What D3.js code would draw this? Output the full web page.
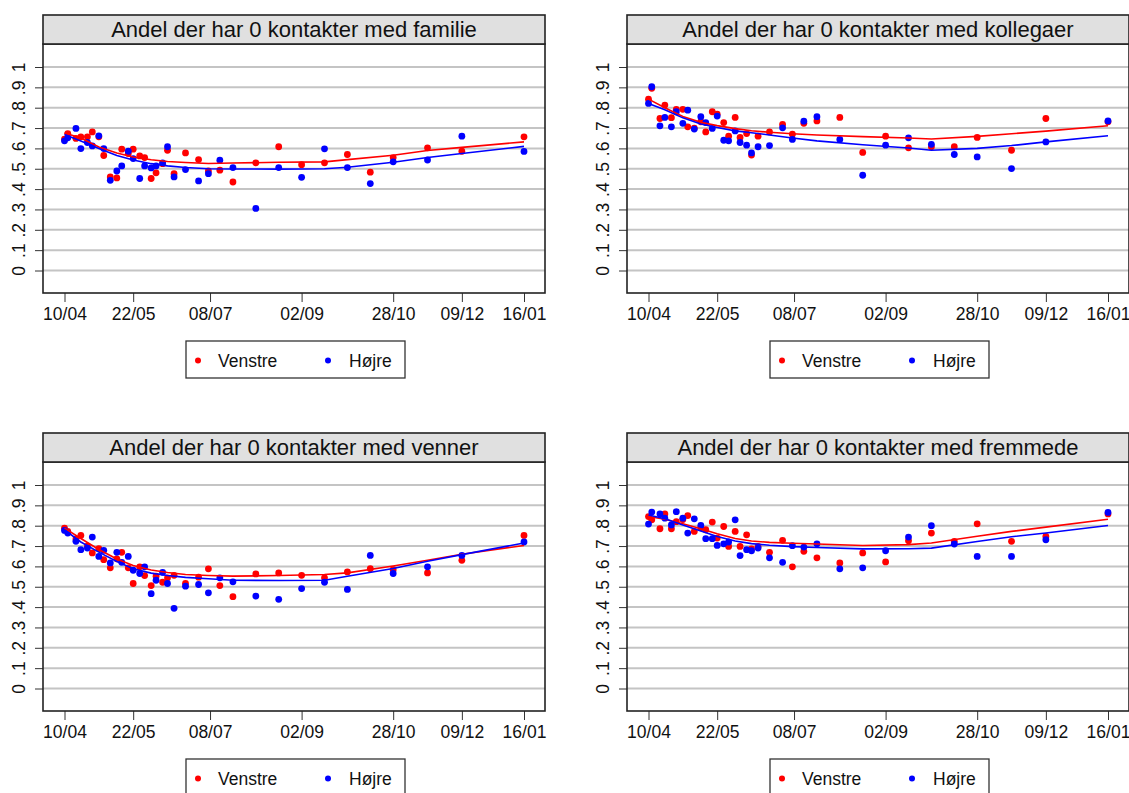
<!DOCTYPE html>
<html>
<head>
<meta charset="utf-8">
<script src="https://cdn.jsdelivr.net/npm/d3@7"></script>
<style>
  body { margin: 0; background: #ffffff; }
  svg { display: block; font-family: "Liberation Sans", Arial, sans-serif; }
</style>
</head>
<body>
<svg id="chart" width="1129" height="793"></svg>
<script>
// ---------- DATA ----------
const dates = ["2020-04-10","2020-04-12","2020-04-17","2020-04-20","2020-04-24","2020-04-27","2020-05-01","2020-05-04","2020-05-08","2020-05-12","2020-05-15","2020-05-19","2020-05-22","2020-05-26","2020-05-29","2020-06-02","2020-06-05","2020-06-09","2020-06-12","2020-06-16","2020-06-23","2020-07-01","2020-07-07","2020-07-14","2020-07-22","2020-08-05","2020-08-19","2020-09-02","2020-09-16","2020-09-30","2020-10-14","2020-10-28","2020-11-18","2020-12-09","2021-01-16"];
const fitDates = ["2020-04-10","2020-04-20","2020-05-01","2020-05-12","2020-05-22","2020-06-02","2020-06-12","2020-06-23","2020-07-07","2020-07-22","2020-08-19","2020-09-16","2020-09-30","2020-10-28","2020-11-18","2020-12-09","2021-01-16"];
const tickDates = ["2020-04-10","2020-05-22","2020-07-08","2020-09-02","2020-10-28","2020-12-09","2021-01-16"];
const tickLabels = ["10/04","22/05","08/07","02/09","28/10","09/12","16/01"];
const yTicks = [0,0.1,0.2,0.3,0.4,0.5,0.6,0.7,0.8,0.9,1];
const yTickLabels = ["0",".1",".2",".3",".4",".5",".6",".7",".8",".9","1"];
const titles = ["Andel der har 0 kontakter med familie","Andel der har 0 kontakter med kollegaer","Andel der har 0 kontakter med venner","Andel der har 0 kontakter med fremmede"];
const seriesNames = ["Venstre","Højre"];

// familie
const familieVenstre = [0.645,0.673,0.649,0.657,0.657,0.681,0.657,0.565,0.46,0.455,0.596,0.575,0.596,0.563,0.555,0.452,0.48,0.525,0.591,0.476,0.578,0.545,0.489,0.493,0.435,0.529,0.608,0.52,0.529,0.57,0.483,0.555,0.603,0.586,0.657];
const familieHojre   = [0.637,0.652,0.698,0.599,0.629,0.612,0.662,0.599,0.443,0.489,0.514,0.586,0.55,0.452,0.514,0.504,0.514,0.529,0.608,0.46,0.496,0.44,0.476,0.542,0.506,0.305,0.506,0.458,0.598,0.506,0.427,0.534,0.543,0.66,0.585];
const familieFitVenstre = [0.676,0.651,0.607,0.577,0.558,0.544,0.536,0.531,0.526,0.528,0.532,0.534,0.545,0.566,0.59,0.605,0.632];
const familieFitHojre   = [0.668,0.636,0.60,0.565,0.543,0.525,0.514,0.506,0.50,0.499,0.498,0.50,0.507,0.532,0.555,0.575,0.61];

// kollegaer
const kollegaerVenstre = [0.842,0.895,0.747,0.813,0.751,0.792,0.792,0.706,0.70,0.731,0.681,0.78,0.768,0.727,0.66,0.752,0.654,0.673,0.567,0.66,0.681,0.718,0.67,0.723,0.735,0.752,0.58,0.66,0.603,0.608,0.608,0.654,0.591,0.747,0.731];
const kollegaerHojre   = [0.821,0.903,0.711,0.752,0.706,0.78,0.723,0.788,0.695,0.756,0.727,0.698,0.759,0.64,0.637,0.686,0.629,0.616,0.578,0.608,0.614,0.701,0.644,0.734,0.756,0.644,0.468,0.616,0.652,0.62,0.57,0.558,0.501,0.632,0.735];
const kollegaerFitVenstre = [0.842,0.80,0.757,0.728,0.712,0.697,0.687,0.679,0.672,0.666,0.658,0.651,0.646,0.659,0.672,0.685,0.711];
const kollegaerFitHojre   = [0.821,0.79,0.75,0.72,0.703,0.686,0.677,0.666,0.651,0.637,0.618,0.602,0.591,0.60,0.614,0.632,0.662];

// venner
const vennerVenstre = [0.788,0.772,0.735,0.752,0.70,0.666,0.687,0.633,0.593,0.637,0.669,0.593,0.516,0.598,0.555,0.506,0.552,0.522,0.544,0.556,0.516,0.547,0.588,0.506,0.451,0.563,0.568,0.556,0.544,0.573,0.589,0.584,0.568,0.63,0.752];
const vennerHojre   = [0.777,0.764,0.723,0.682,0.69,0.744,0.649,0.679,0.617,0.669,0.62,0.649,0.581,0.565,0.598,0.466,0.532,0.571,0.516,0.394,0.503,0.511,0.47,0.544,0.524,0.454,0.438,0.491,0.522,0.487,0.654,0.565,0.598,0.654,0.72];
const vennerFitVenstre = [0.788,0.737,0.683,0.636,0.604,0.582,0.57,0.56,0.555,0.552,0.555,0.56,0.568,0.602,0.63,0.66,0.703];
const vennerFitHojre   = [0.78,0.72,0.67,0.624,0.588,0.567,0.555,0.546,0.539,0.532,0.531,0.532,0.552,0.59,0.625,0.658,0.715];

// fremmede
const fremmedeVenstre = [0.845,0.829,0.785,0.858,0.785,0.82,0.83,0.85,0.772,0.79,0.78,0.818,0.739,0.796,0.698,0.772,0.698,0.755,0.686,0.698,0.669,0.728,0.598,0.674,0.642,0.617,0.666,0.622,0.726,0.764,0.723,0.809,0.723,0.747,0.858];
const fremmedeHojre   = [0.808,0.867,0.858,0.837,0.804,0.869,0.837,0.764,0.834,0.801,0.736,0.736,0.703,0.711,0.72,0.829,0.653,0.682,0.677,0.69,0.642,0.62,0.702,0.695,0.711,0.588,0.593,0.677,0.744,0.80,0.71,0.649,0.649,0.731,0.865];
const fremmedeFitVenstre = [0.845,0.832,0.81,0.785,0.76,0.737,0.725,0.718,0.714,0.71,0.703,0.707,0.715,0.748,0.772,0.793,0.832];
const fremmedeFitHojre   = [0.853,0.834,0.803,0.774,0.747,0.725,0.712,0.704,0.697,0.693,0.686,0.687,0.69,0.722,0.746,0.764,0.801];

// ---------- DRAW ----------
const parse = d3.timeParse("%Y-%m-%d");
const dDates = dates.map(parse);
const dFit = fitDates.map(parse);
const dTicks = tickDates.map(parse);
const colors = ["#ff0000", "#0000ff"];

const panels = [
  {title: titles[0], pts: [familieVenstre, familieHojre], fit: [familieFitVenstre, familieFitHojre], left: 43, top: 15},
  {title: titles[1], pts: [kollegaerVenstre, kollegaerHojre], fit: [kollegaerFitVenstre, kollegaerFitHojre], left: 627, top: 15},
  {title: titles[2], pts: [vennerVenstre, vennerHojre], fit: [vennerFitVenstre, vennerFitHojre], left: 43, top: 433},
  {title: titles[3], pts: [fremmedeVenstre, fremmedeHojre], fit: [fremmedeFitVenstre, fremmedeFitHojre], left: 627, top: 433}
];

const svg = d3.select("#chart");
const boxW = 502, stripH = 29, boxH = 249;

panels.forEach(p => {
  const g = svg.append("g").attr("transform", `translate(${p.left},${p.top})`);
  const by = stripH;
  const x = d3.scaleTime().domain(d3.extent(dDates)).range([21.5, 481]);
  const y = d3.scaleLinear().domain([0, 1]).range([by + 226.5, by + 23]);

  g.append("g").selectAll("line").data(yTicks).join("line")
    .attr("x1", 0).attr("x2", boxW)
    .attr("y1", d => y(d)).attr("y2", d => y(d))
    .attr("stroke", "#c4c4c4").attr("stroke-width", 2);

  const ya = g.append("g")
    .call(d3.axisLeft(y).tickValues(yTicks).tickFormat((d, i) => yTickLabels[i]).tickSize(8).tickPadding(0));
  ya.select(".domain").remove();
  ya.selectAll(".tick line").attr("stroke", "#333").attr("stroke-width", 1);
  ya.selectAll(".tick text")
    .attr("font-size", 17.5).attr("fill", "#111")
    .attr("font-family", "Liberation Sans, Arial, sans-serif")
    .attr("text-anchor", "middle").attr("dy", null).attr("x", null)
    .attr("transform", "translate(-18,0) rotate(-90)");

  const xa = g.append("g").attr("transform", `translate(0,${by + boxH})`)
    .call(d3.axisBottom(x).tickValues(dTicks).tickFormat((d, i) => tickLabels[i]).tickSize(9).tickPadding(6));
  xa.select(".domain").remove();
  xa.selectAll(".tick line").attr("stroke", "#333").attr("stroke-width", 1);
  xa.selectAll(".tick text").attr("font-size", 17.5).attr("fill", "#111")
    .attr("font-family", "Liberation Sans, Arial, sans-serif");

  p.pts.forEach((vals, si) => {
    g.append("g").selectAll("circle").data(vals).join("circle")
      .attr("cx", (d, i) => x(dDates[i])).attr("cy", d => y(d))
      .attr("r", 3.4).attr("fill", colors[si]);
  });

  p.fit.forEach((vals, si) => {
    const line = d3.line().x((d, i) => x(dFit[i])).y(d => y(d));
    g.append("path").datum(vals).attr("d", line)
      .attr("fill", "none").attr("stroke", colors[si]).attr("stroke-width", 1.6);
  });

  g.append("rect").attr("x", 0).attr("y", by).attr("width", boxW).attr("height", boxH)
    .attr("fill", "none").attr("stroke", "#222").attr("stroke-width", 1.6);

  g.append("rect").attr("x", 0).attr("y", 0).attr("width", boxW).attr("height", stripH)
    .attr("fill", "#e0e0e0").attr("stroke", "#222").attr("stroke-width", 1.6);
  g.append("text").attr("x", boxW / 2).attr("y", stripH / 2 + 7.5)
    .attr("text-anchor", "middle").attr("font-size", 22).attr("fill", "#111")
    .text(p.title);

  const lg = g.append("g").attr("transform", `translate(${143},${326})`);
  lg.append("rect").attr("x", 0).attr("y", 0).attr("width", 219).attr("height", 37)
    .attr("fill", "#fff").attr("stroke", "#333").attr("stroke-width", 1.3);
  const items = [{dx: 12, tx: 32}, {dx: 142, tx: 163}];
  items.forEach((it, i) => {
    lg.append("circle").attr("cx", it.dx).attr("cy", 19.5).attr("r", 3).attr("fill", colors[i]);
    lg.append("text").attr("x", it.tx).attr("y", 25.5).attr("font-size", 17.5).attr("fill", "#111")
      .text(seriesNames[i]);
  });
});
</script>
</body>
</html>
